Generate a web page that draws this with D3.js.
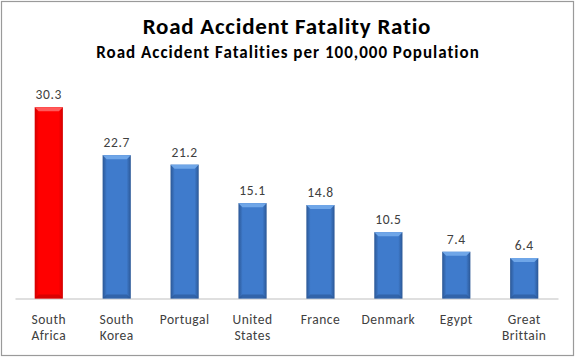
<!DOCTYPE html>
<html><head><meta charset="utf-8">
<script src="https://cdn.jsdelivr.net/npm/d3@7"></script>
<style>body{margin:0;background:#fff}svg{display:block}</style>
</head><body>
<script>
const categories = ["South Africa","South Korea","Portugal","United States","France","Denmark","Egypt","Great Brittain"];
const labelLines = [["South","Africa"],["South","Korea"],["Portugal"],["United","States"],["France"],["Denmark"],["Egypt"],["Great","Brittain"]];
const values = [30.3,22.7,21.2,15.1,14.8,10.5,7.4,6.4];
const highlight = ["South Africa"];

const W=575,H=358;
const svg=d3.select("body").append("svg").attr("width",W).attr("height",H);
const font="Carlito, Calibri, 'Open Sans', sans-serif";

svg.append("rect").attr("x",1.5).attr("y",1.5).attr("width",W-3).attr("height",H-4)
  .attr("fill","#fff").attr("stroke","#9a9a9a").attr("stroke-width",1.2);

const defs=svg.append("defs");
function grad(id,edge,mid){
  const g=defs.append("linearGradient").attr("id",id).attr("x1","0").attr("x2","1").attr("y1","0").attr("y2","0");
  g.append("stop").attr("offset","0").attr("stop-color",edge);
  g.append("stop").attr("offset","0.15").attr("stop-color",mid);
  g.append("stop").attr("offset","0.85").attr("stop-color",mid);
  g.append("stop").attr("offset","1").attr("stop-color",edge);
}
grad("gBlue","#2b5795","#3f7bcc");
grad("gRed","#d20000","#ff0000");

const baseY=298.5, topY=77.5;
const x=d3.scaleBand().domain(categories).range([15,558]).paddingInner(0.585).paddingOuter(0.29);
const y=d3.scaleLinear().domain([0,35]).range([baseY,topY]);

svg.append("g").attr("transform",`translate(0,${baseY})`)
  .call(d3.axisBottom(x).tickSize(0).tickFormat(""))
  .call(g=>g.select(".domain").attr("stroke","#c0c0c0").attr("stroke-width",1.2));

const bars=svg.append("g").selectAll("g").data(categories).join("g");
bars.append("rect")
  .attr("x",d=>x(d)).attr("width",x.bandwidth())
  .attr("y",(d,i)=>y(values[i])).attr("height",(d,i)=>baseY-y(values[i]))
  .attr("fill",d=>highlight.includes(d)?"url(#gRed)":"url(#gBlue)");
bars.append("path")
  .attr("d",(d,i)=>{const x0=x(d),w=x.bandwidth(),t=y(values[i]);
    return `M${x0},${t}L${x0+w},${t}L${x0+w-4},${t+4}L${x0+4},${t+4}Z`;})
  .attr("fill",d=>highlight.includes(d)?"#ff5a5a":"#6fa6e8");
bars.append("path")
  .attr("d",(d,i)=>{const x0=x(d),w=x.bandwidth(),b=baseY;
    return `M${x0},${b}L${x0+w},${b}L${x0+w-4},${b-4}L${x0+4},${b-4}Z`;})
  .attr("fill",d=>highlight.includes(d)?"#c00000":"#2a5592").attr("opacity",0.6);

bars.append("text")
  .attr("x",d=>x(d)+x.bandwidth()/2).attr("y",(d,i)=>y(values[i])-8)
  .attr("text-anchor","middle").attr("font-family",font).attr("font-size",13.5)
  .attr("letter-spacing",0.6)
  .attr("fill","#404040").text((d,i)=>values[i].toFixed(1));

const cl=svg.append("g").selectAll("text").data(categories).join("text")
  .attr("x",d=>x(d)+x.bandwidth()/2).attr("y",324)
  .attr("text-anchor","middle").attr("font-family",font).attr("font-size",13.5)
  .attr("letter-spacing",0.5).attr("fill","#404040");
cl.selectAll("tspan").data((d,i)=>labelLines[i]).join("tspan")
  .attr("x",function(){return this.parentNode.getAttribute("x");})
  .attr("dy",(d,i)=>i?15.5:0).text(d=>d);

svg.append("text").attr("x",287).attr("y",33.5).attr("text-anchor","middle")
  .attr("font-family",font).attr("font-weight","bold").attr("font-size",23).attr("fill","#000")
  .attr("letter-spacing",0.75)
  .text("Road Accident Fatality Ratio");
svg.append("text").attr("x",288).attr("y",58).attr("text-anchor","middle")
  .attr("font-family",font).attr("font-weight","bold").attr("font-size",17).attr("fill","#000")
  .attr("letter-spacing",1.0)
  .text("Road Accident Fatalities per 100,000 Population");
</script>
</body></html>
